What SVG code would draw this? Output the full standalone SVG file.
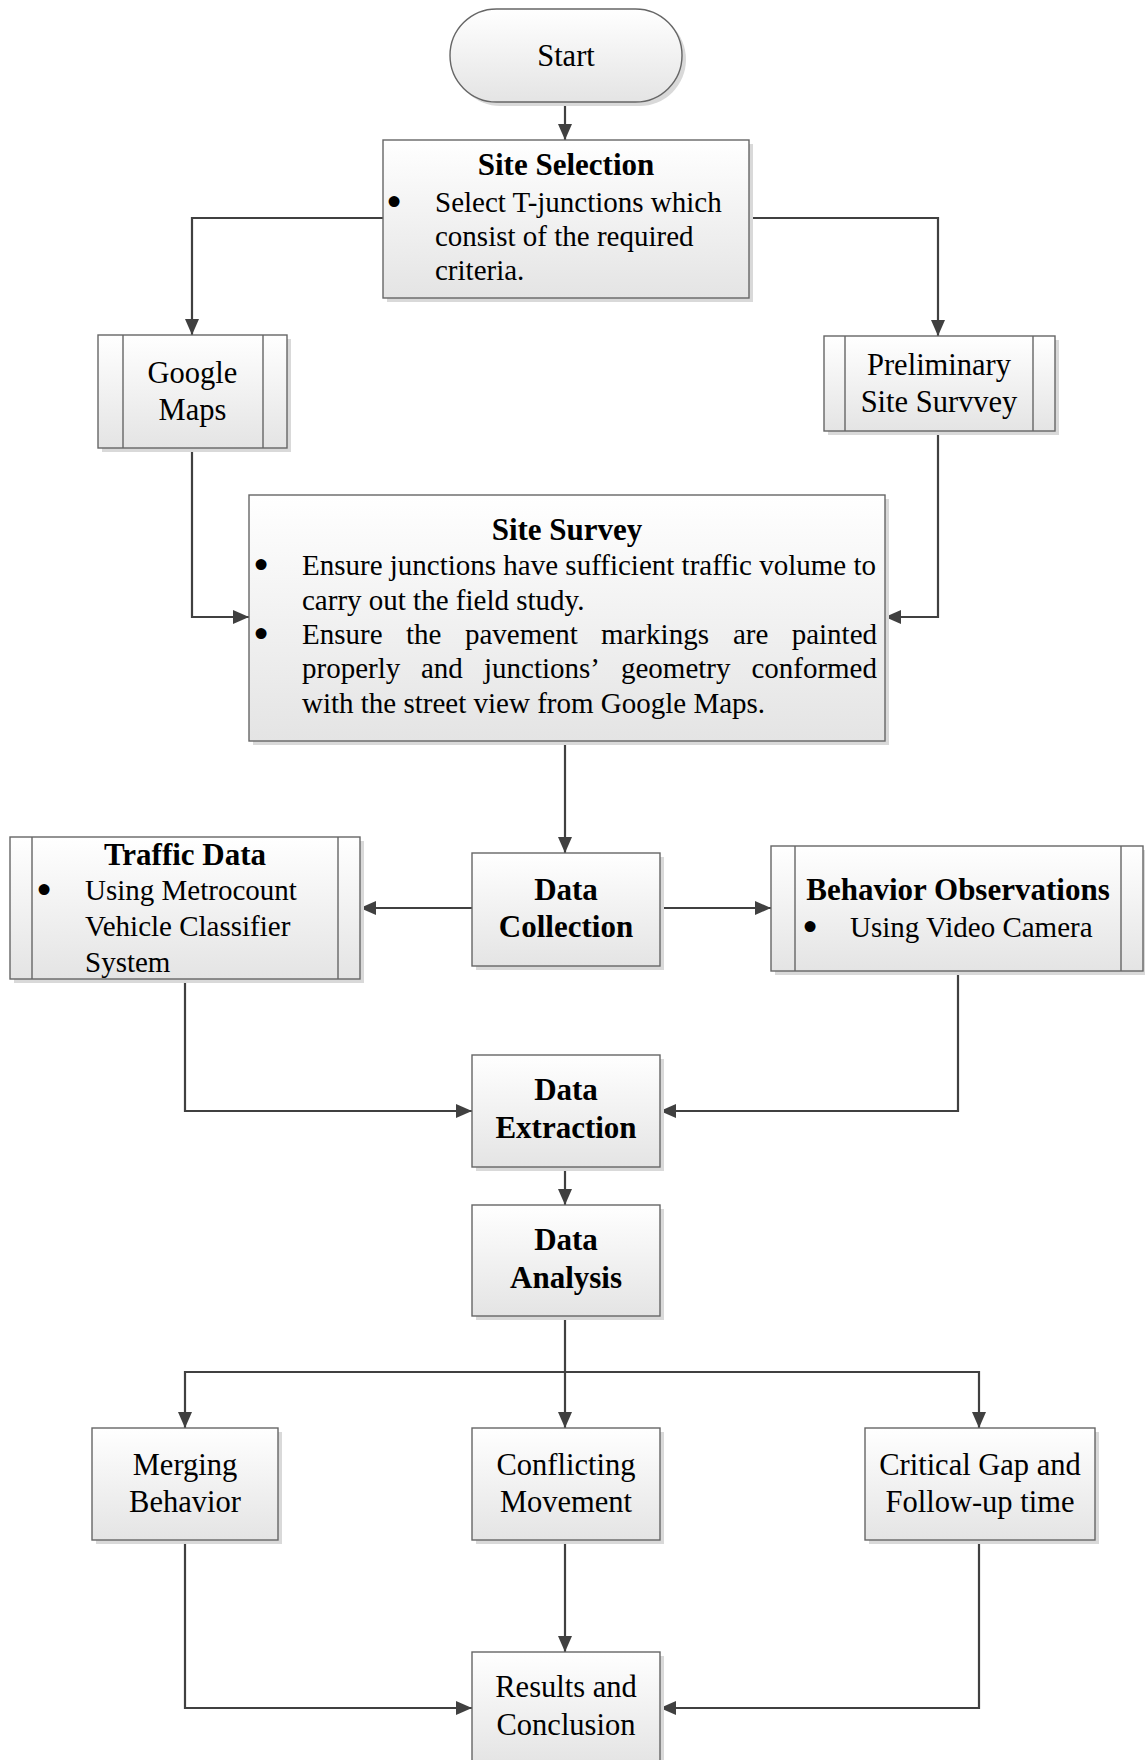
<svg xmlns="http://www.w3.org/2000/svg" width="1145" height="1760" viewBox="0 0 1145 1760">
  <defs>
    <linearGradient id="boxFill" x1="0" y1="0" x2="0" y2="1">
      <stop offset="0" stop-color="#ffffff"/>
      <stop offset="1" stop-color="#e4e4e4"/>
    </linearGradient>
    <marker id="arrow" markerUnits="userSpaceOnUse" markerWidth="18" markerHeight="14" refX="16" refY="7" orient="auto">
      <path d="M0,0 L16,7 L0,14 Z" fill="#404040"/>
    </marker>
    <style>
      .shadow { fill: #d9d9d9; stroke: none; }
      .box { fill: url(#boxFill); stroke: #666666; stroke-width: 1.4; }
      .inner { stroke: #666666; stroke-width: 1.4; fill: none; }
      .conn { fill: none; stroke: #404040; stroke-width: 2.2; }
      .arr { marker-end: url(#arrow); }
      text { font-family: "Liberation Serif", "Times New Roman", serif; fill: #000000; }
      .lbl { font-size: 30.5px; text-anchor: middle; }
      .ttl { font-size: 31px; font-weight: bold; text-anchor: middle; }
      .bul { font-size: 29px; }
      .dot { font-size: 29px; stroke: #000000; stroke-width: 4; stroke-linejoin: round; }
    </style>
  </defs>

  <!-- connectors -->
  <g id="connectors">
    <path class="conn arr" d="M565,102 V140"/>
    <path class="conn arr" d="M383,218 H192 V335"/>
    <path class="conn arr" d="M749,218 H938 V336"/>
    <path class="conn arr" d="M192,448 V617 H249"/>
    <path class="conn arr" d="M938,431 V617 H885"/>
    <path class="conn arr" d="M565,741 V853"/>
    <path class="conn arr" d="M472,908 H360"/>
    <path class="conn arr" d="M662,908 H771"/>
    <path class="conn arr" d="M185,979 V1111 H472"/>
    <path class="conn arr" d="M958,971 V1111 H660"/>
    <path class="conn arr" d="M565,1167 V1205"/>
    <path class="conn arr" d="M565,1316 V1428"/>
    <path class="conn arr" d="M565,1372 H185 V1428"/>
    <path class="conn arr" d="M565,1372 H979 V1428"/>
    <path class="conn arr" d="M185,1540 V1708 H472"/>
    <path class="conn arr" d="M565,1540 V1652"/>
    <path class="conn arr" d="M979,1540 V1708 H660"/>
  </g>

  <!-- Start terminator -->
  <g id="start">
    <rect class="shadow" x="454" y="13" width="232" height="93" rx="46.5"/>
    <rect class="box" x="450" y="9" width="232" height="93" rx="46.5"/>
    <text class="lbl" x="566" y="66">Start</text>
  </g>

  <!-- Site Selection -->
  <g id="site-selection">
    <rect class="shadow" x="387" y="144" width="366" height="158"/>
    <rect class="box" x="383" y="140" width="366" height="158"/>
    <text class="ttl" x="566" y="175">Site Selection</text>
    <text class="dot" x="389" y="212">•</text>
    <text class="bul" x="435" y="212">Select T-junctions which</text>
    <text class="bul" x="435" y="246">consist of the required</text>
    <text class="bul" x="435" y="280">criteria.</text>
  </g>

  <!-- Google Maps (predefined process) -->
  <g id="google-maps">
    <rect class="shadow" x="102" y="339" width="189" height="113"/>
    <rect class="box" x="98" y="335" width="189" height="113"/>
    <path class="inner" d="M123,335 V448 M263,335 V448"/>
    <text class="lbl" x="192.5" y="383">Google</text>
    <text class="lbl" x="192.5" y="420">Maps</text>
  </g>

  <!-- Preliminary Site Survvey (predefined process) -->
  <g id="preliminary-survey">
    <rect class="shadow" x="828" y="340" width="231" height="95"/>
    <rect class="box" x="824" y="336" width="231" height="95"/>
    <path class="inner" d="M845,336 V431 M1033,336 V431"/>
    <text class="lbl" x="939" y="375">Preliminary</text>
    <text class="lbl" x="939" y="412">Site Survvey</text>
  </g>

  <!-- Site Survey -->
  <g id="site-survey">
    <rect class="shadow" x="253" y="499" width="636" height="246"/>
    <rect class="box" x="249" y="495" width="636" height="246"/>
    <text class="ttl" x="567" y="540">Site Survey</text>
    <text class="dot" x="256" y="575">•</text>
    <text class="bul" x="302" y="575">Ensure junctions have sufficient traffic volume to</text>
    <text class="bul" x="302" y="610">carry out the field study.</text>
    <text class="dot" x="256" y="644">•</text>
    <text class="bul" y="644"><tspan x="302">Ensure</tspan><tspan x="406">the</tspan><tspan x="465">pavement</tspan><tspan x="601">markings</tspan><tspan x="733">are</tspan><tspan x="877" text-anchor="end">painted</tspan></text>
    <text class="bul" y="678"><tspan x="302">properly</tspan><tspan x="421">and</tspan><tspan x="484">junctions’</tspan><tspan x="621">geometry</tspan><tspan x="877" text-anchor="end">conformed</tspan></text>
    <text class="bul" x="302" y="713">with the street view from Google Maps.</text>
  </g>

  <!-- Traffic Data (predefined process) -->
  <g id="traffic-data">
    <rect class="shadow" x="14" y="841" width="350" height="142"/>
    <rect class="box" x="10" y="837" width="350" height="142"/>
    <path class="inner" d="M32,837 V979 M338,837 V979"/>
    <text class="ttl" x="185" y="865">Traffic Data</text>
    <text class="dot" x="39" y="900">•</text>
    <text class="bul" x="85" y="900">Using Metrocount</text>
    <text class="bul" x="85" y="936">Vehicle Classifier</text>
    <text class="bul" x="85" y="972">System</text>
  </g>

  <!-- Data Collection -->
  <g id="data-collection">
    <rect class="shadow" x="476" y="857" width="188" height="113"/>
    <rect class="box" x="472" y="853" width="188" height="113"/>
    <text class="ttl" x="566" y="900">Data</text>
    <text class="ttl" x="566" y="937">Collection</text>
  </g>

  <!-- Behavior Observations (predefined process) -->
  <g id="behavior-observations">
    <rect class="shadow" x="775" y="850" width="372" height="125"/>
    <rect class="box" x="771" y="846" width="372" height="125"/>
    <path class="inner" d="M795,846 V971 M1121,846 V971"/>
    <text class="ttl" x="958" y="900">Behavior Observations</text>
    <text class="dot" x="805" y="937">•</text>
    <text class="bul" x="850" y="937">Using Video Camera</text>
  </g>

  <!-- Data Extraction -->
  <g id="data-extraction">
    <rect class="shadow" x="476" y="1059" width="188" height="112"/>
    <rect class="box" x="472" y="1055" width="188" height="112"/>
    <text class="ttl" x="566" y="1100">Data</text>
    <text class="ttl" x="566" y="1138">Extraction</text>
  </g>

  <!-- Data Analysis -->
  <g id="data-analysis">
    <rect class="shadow" x="476" y="1209" width="188" height="111"/>
    <rect class="box" x="472" y="1205" width="188" height="111"/>
    <text class="ttl" x="566" y="1250">Data</text>
    <text class="ttl" x="566" y="1288">Analysis</text>
  </g>

  <!-- Merging Behavior -->
  <g id="merging-behavior">
    <rect class="shadow" x="96" y="1432" width="186" height="112"/>
    <rect class="box" x="92" y="1428" width="186" height="112"/>
    <text class="lbl" x="185" y="1475">Merging</text>
    <text class="lbl" x="185" y="1512">Behavior</text>
  </g>

  <!-- Conflicting Movement -->
  <g id="conflicting-movement">
    <rect class="shadow" x="476" y="1432" width="188" height="112"/>
    <rect class="box" x="472" y="1428" width="188" height="112"/>
    <text class="lbl" x="566" y="1475">Conflicting</text>
    <text class="lbl" x="566" y="1512">Movement</text>
  </g>

  <!-- Critical Gap and Follow-up time -->
  <g id="critical-gap">
    <rect class="shadow" x="869" y="1432" width="230" height="112"/>
    <rect class="box" x="865" y="1428" width="230" height="112"/>
    <text class="lbl" x="980" y="1475">Critical Gap and</text>
    <text class="lbl" x="980" y="1512">Follow-up time</text>
  </g>

  <!-- Results and Conclusion -->
  <g id="results-conclusion">
    <rect class="shadow" x="476" y="1656" width="188" height="112"/>
    <rect class="box" x="472" y="1652" width="188" height="112"/>
    <text class="lbl" x="566" y="1697">Results and</text>
    <text class="lbl" x="566" y="1735">Conclusion</text>
  </g>
</svg>
